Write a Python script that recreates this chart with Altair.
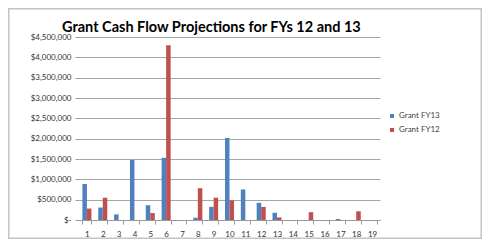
import altair as alt
import pandas as pd

categories = [str(i) for i in range(1, 20)]
series = ["Grant FY13", "Grant FY12"]
colors = ["#4f81bd", "#c0504d"]
fy13 = [887000, 306000, 137000, 1476000, 363000, 1530000, 0, 56000, 323000,
        2020000, 750000, 423000, 177000, 0, 0, 0, 25000, 0, 0]
fy12 = [282000, 548000, 0, 0, 170000, 4300000, 0, 782000, 548000,
        484000, 0, 323000, 62000, 0, 192000, 0, 0, 215000, 0]
y_ticks = [0, 500000, 1000000, 1500000, 2000000, 2500000, 3000000,
           3500000, 4000000, 4500000]
title_text = "Grant Cash Flow Projections for FYs 12 and 13"

rows = []
for i, c in enumerate(categories):
    rows.append({"Category": c, "Series": series[0], "Value": fy13[i]})
    rows.append({"Category": c, "Series": series[1], "Value": fy12[i]})
df = pd.DataFrame(rows)

W, H = 301, 183
PL, PT, PR, PB = 71, 29, 102, 19

bars = alt.Chart(df).mark_bar().encode(
    x=alt.X("Category:N", sort=categories,
            scale=alt.Scale(paddingInner=0.43, paddingOuter=0.215),
            axis=alt.Axis(title=None, labelAngle=0, tickBand="extent",
                          labelFont="Lato", labelFontSize=8, labelColor="#333333",
                          labelPadding=6, tickSize=4, tickColor="#9a9a9a",
                          domainColor="#9a9a9a", grid=False)),
    xOffset=alt.XOffset("Series:N", sort=series,
                        scale=alt.Scale(paddingInner=0, paddingOuter=0)),
    y=alt.Y("Value:Q", scale=alt.Scale(domain=[0, 4500000], nice=False),
            axis=alt.Axis(title=None, values=y_ticks,
                          labelExpr="datum.value == 0 ? '$-' : '$' + format(datum.value, ',')",
                          labelFont="Lato", labelFontSize=8, labelColor="#333333",
                          labelPadding=4, tickSize=4, tickColor="#9a9a9a",
                          domain=False, grid=True, gridColor="#a6a6a6")),
    color=alt.Color("Series:N", sort=series,
                    scale=alt.Scale(domain=series, range=colors),
                    legend=alt.Legend(title=None, orient="none", legendX=309, legendY=75,
                                      symbolType="square", symbolSize=16,
                                      labelFont="Lato", labelFontSize=8,
                                      labelColor="#444444", labelOffset=3,
                                      rowPadding=6, padding=0)),
)

frame = alt.Chart(pd.DataFrame({"k": [0]})).mark_rect(
    fillOpacity=0, stroke="#c4c4c4", strokeWidth=1.5
).encode(
    x=alt.value(-PL + 0.75), x2=alt.value(W + PR - 0.75),
    y=alt.value(-PT + 0.75), y2=alt.value(H + PB - 0.75),
)

title = alt.Chart(pd.DataFrame({"t": [title_text]})).mark_text(
    align="left", baseline="alphabetic", font="Lato",
    fontSize=14.5, fontWeight="bold", color="#000000"
).encode(text="t:N", x=alt.value(-17), y=alt.value(-5))

chart = alt.layer(frame, bars, title).properties(
    width=W, height=H,
    autosize=alt.AutoSizeParams(type="none"),
    padding={"left": PL, "top": PT, "right": PR, "bottom": PB},
    background="#ffffff",
).configure_view(strokeWidth=0)

chart.save("out.html", embed_options={"renderer": "svg", "actions": False})
